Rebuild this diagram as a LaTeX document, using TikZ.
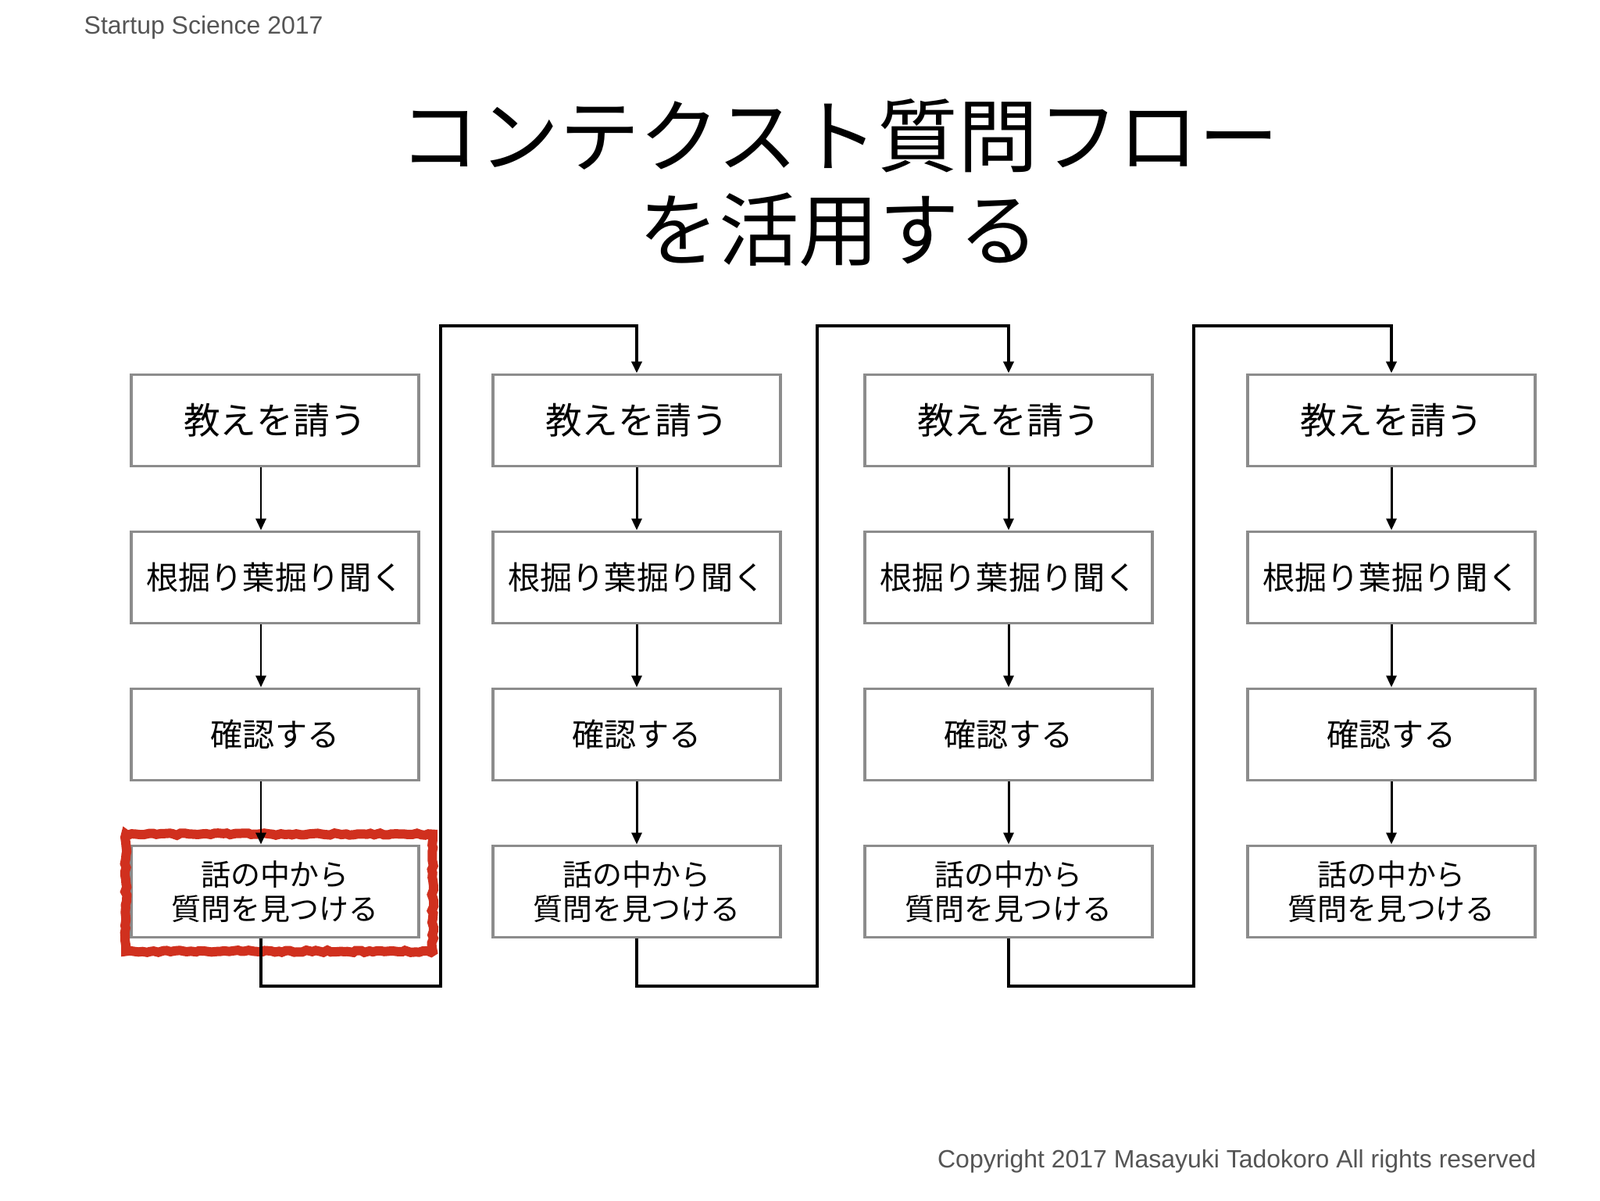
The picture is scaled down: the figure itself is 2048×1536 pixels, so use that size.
\documentclass[tikz,border=0pt]{standalone}
\usepackage{fontspec}
\setmainfont{Liberation Sans}
\newfontfamily\jpfont{Noto Sans CJK JP}
\usetikzlibrary{arrows.meta,decorations.pathmorphing}
\definecolor{boxgray}{HTML}{8C8C8C}
\definecolor{textgray}{HTML}{555555}
\definecolor{markred}{HTML}{D0301E}
\tikzset{
  stepbox/.style={draw=boxgray, line width=1.1pt, fill=white, minimum width=36.8mm, minimum height=11.7mm,
    inner sep=0pt, align=center, font=\jpfont\fontsize{11.7}{14}\selectfont},
  flow/.style={line width=0.85pt, -{Triangle[length=1.5mm,width=1.3mm]}},
  loopline/.style={line width=1.3pt, -{Triangle[length=1.5mm,width=1.3mm]}},
  smalltext/.style={text=textgray, font=\fontsize{9.1}{11}\selectfont, inner sep=0pt},
}
\begin{document}
\begin{tikzpicture}[x=0.1mm,y=-0.1mm]
\useasboundingbox (0,0) rectangle (2048,1536);
\node[smalltext, anchor=west] (hdr) at (107,35) {Startup Science 2017};
\node[smalltext, anchor=east] (copy) at (1967,1486) {Copyright 2017 Masayuki Tadokoro All rights reserved};
\node[font=\jpfont\fontsize{29.2}{34}\selectfont, align=center] (title) at (1074,234) {コンテクスト質問フロー\\を活用する};
% the four columns
\foreach \c/\x/\ax in {1/352/334, 2/815/815, 3/1291/1291, 4/1781/1781} {
  \coordinate (a\c) at (\ax,0);
  \node[stepbox, font=\jpfont\fontsize{13.3}{16}\selectfont] (b\c1) at (\x,538) {教えを請う};
  \node[stepbox] (b\c2) at (\x,739) {根掘り葉掘り聞く};
  \node[stepbox] (b\c3) at (\x,940) {確認する};
  \node[stepbox, font=\jpfont\fontsize{10.8}{12.3}\selectfont] (b\c4) at (\x,1141) {話の中から\\質問を見つける};
}
% red mark
\draw[markred, line width=1.2mm, decorate, decoration={random steps, segment length=1.5pt, amplitude=0.4pt}]
  ([shift={(-5,-13)}]b14.north west) rectangle ([shift={(16,16)}]b14.south east);
\foreach \c in {1,...,4} {
  \foreach \r/\s in {1/2, 2/3, 3/4}
    \draw[flow] (b\c\r.south -| a\c) -- (b\c\s.north -| a\c);
}
% back to the next column
\foreach \c/\n/\vx in {1/2/564, 2/3/1046, 3/4/1528} {
  \coordinate (lo\c) at (\vx,1262);
  \coordinate (hi\c) at (\vx,417);
  \draw[loopline] (b\c4.south -| a\c) |- (lo\c) -- (hi\c) -| (b\n1.north);
}
\end{tikzpicture}
\end{document}
